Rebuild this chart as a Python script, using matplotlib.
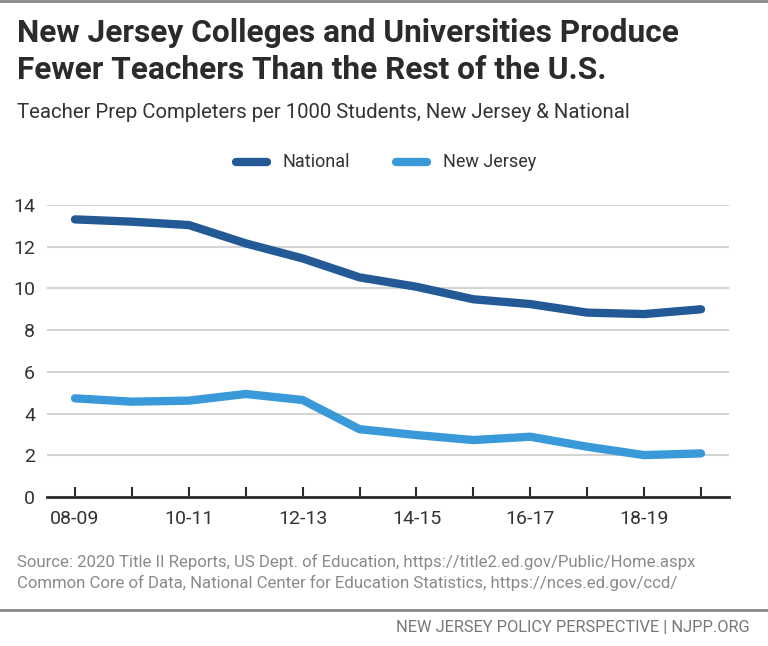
import matplotlib.pyplot as plt
from matplotlib.lines import Line2D

# dados
anos = ["08-09", "09-10", "10-11", "11-12", "12-13", "13-14",
        "14-15", "15-16", "16-17", "17-18", "18-19", "19-20"]
nacional = [13.31, 13.2, 13.04, 12.16, 11.44, 10.53,
            10.08, 9.48, 9.25, 8.84, 8.77, 9.0]
nova_jersey = [4.73, 4.57, 4.62, 4.94, 4.65, 3.25,
               2.97, 2.73, 2.89, 2.41, 2.01, 2.09]
y_ticks = [0, 2, 4, 6, 8, 10, 12, 14]

cor_nac = "#235a96"
cor_nj = "#3a9ad9"
cinza = "#8a8a8a"
plt.rcParams["font.family"] = ["Roboto", "DejaVu Sans"]

fig = plt.figure(figsize=(7.68, 6.46), dpi=100)
W, H = 768, 646

def fx(px):
    return px / W

def fy(py):
    return 1 - py / H

# linha cinza no topo e separador do rodape
fig.add_artist(Line2D([0, 1], [fy(1), fy(1)], color="#888888", lw=2))
fig.add_artist(Line2D([0, 1], [fy(610), fy(610)], color="#888888", lw=2))

fig.text(fx(17), fy(33), "New Jersey Colleges and Universities Produce",
         fontsize=22.8, fontweight="bold", color="#2b2b2b", va="center")
fig.text(fx(17), fy(70), "Fewer Teachers Than the Rest of the U.S.",
         fontsize=22.8, fontweight="bold", color="#2b2b2b", va="center")
fig.text(fx(17), fy(112), "Teacher Prep Completers per 1000 Students, New Jersey & National",
         fontsize=14.7, color="#333333", va="center")

ax = fig.add_axes([fx(47), fy(497), fx(729) - fx(47), fy(205) - fy(497)])
x = list(range(len(anos)))
l_nac, = ax.plot(x, nacional, color=cor_nac, lw=6, solid_capstyle="round",
                 solid_joinstyle="round", zorder=3)
l_nj, = ax.plot(x, nova_jersey, color=cor_nj, lw=6, solid_capstyle="round",
                solid_joinstyle="round", zorder=3)

xmin = -28 / 56.9
xmax = 11 + 28 / 56.9
ax.set_xlim(xmin, xmax)
ax.set_ylim(0, 14)
ax.set_yticks(y_ticks)
ax.set_yticklabels([str(v) for v in y_ticks], fontsize=14, color="#333333")
ax.yaxis.grid(True, color="#d4d4d4", lw=1.5)
ax.set_axisbelow(True)
ax.tick_params(axis="y", length=0, pad=8.5)
ax.set_xticks(x)
ax.set_xticklabels([a if i % 2 == 0 else "" for i, a in enumerate(anos)],
                   fontsize=14, color="#333333")
ax.tick_params(axis="x", direction="in", length=7, width=1.5, color="#2b2b2b", pad=9)
for lado in ["top", "right", "left"]:
    ax.spines[lado].set_visible(False)
ax.spines["bottom"].set_color("#2b2b2b")
ax.spines["bottom"].set_linewidth(2)

# legenda
for (x0, x1), cor, nome, xt in [((236, 267), cor_nac, "National", 282),
                                ((396, 427), cor_nj, "New Jersey", 443)]:
    fig.add_artist(Line2D([fx(x0), fx(x1)], [fy(162), fy(162)], color=cor,
                          lw=6, solid_capstyle="round"))
    fig.text(fx(xt), fy(162), nome, fontsize=13, color="#333333", va="center")

fig.text(fx(17), fy(562),
         "Source: 2020 Title II Reports, US Dept. of Education, https://title2.ed.gov/Public/Home.aspx",
         fontsize=12.05, color=cinza, va="center")
fig.text(fx(17), fy(583),
         "Common Core of Data, National Center for Education Statistics, https://nces.ed.gov/ccd/",
         fontsize=12.05, color=cinza, va="center")
fig.text(fx(750), fy(627), "NEW JERSEY POLICY PERSPECTIVE | NJPP.ORG",
         fontsize=11.8, color="#777777", va="center", ha="right")

fig.savefig("out.png", dpi=100)
